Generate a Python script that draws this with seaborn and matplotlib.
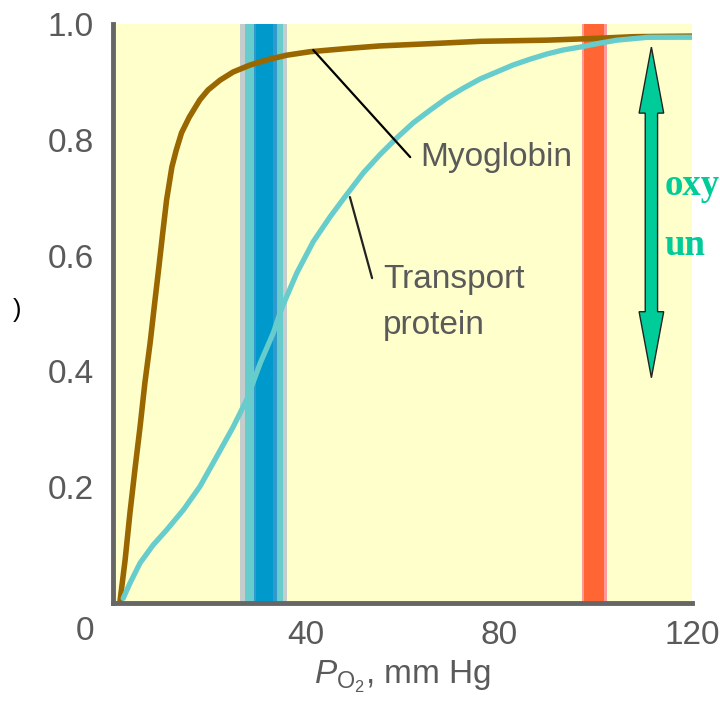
import matplotlib
matplotlib.use("Agg")
import matplotlib.pyplot as plt
from matplotlib.patches import Polygon
import seaborn as sns
import pandas as pd

# ---- data ----
myo_x = [1.4, 2.5, 3.5, 4.6, 5.6, 6.6, 7.7, 8.7, 9.5, 10.3, 11.1, 12.2, 13.1, 14.2,
         15.8, 18.0, 19.7, 22.2, 24.9, 28.4, 31.9, 36.0, 40.8, 49.1, 55.3, 66.0,
         76.1, 90.0, 100.0, 108.0, 120.0]
myo_y = [0.0, 0.074, 0.155, 0.235, 0.304, 0.38, 0.45, 0.523, 0.58, 0.639, 0.696,
         0.753, 0.782, 0.812, 0.839, 0.869, 0.886, 0.903, 0.917, 0.929, 0.938, 0.946,
         0.952, 0.958, 0.962, 0.966, 0.970, 0.972, 0.975, 0.978, 0.979]

tr_x = [2.1, 3.5, 5.6, 8.3, 11.1, 14.6, 18.0, 21.5, 24.9, 27.7, 30.5, 33.2, 35.0,
        38.1, 41.5, 45.0, 48.4, 51.9, 55.3, 58.8, 62.2, 65.7, 69.2, 72.6, 76.1,
        79.5, 82.9, 86.4, 89.9, 93.3, 96.8, 101.0, 104.5, 111.0, 120.0]
tr_y = [0.008, 0.034, 0.069, 0.100, 0.126, 0.161, 0.201, 0.253, 0.304, 0.351, 0.414,
        0.466, 0.510, 0.570, 0.624, 0.667, 0.705, 0.743, 0.774, 0.803, 0.829, 0.851,
        0.872, 0.889, 0.905, 0.917, 0.929, 0.939, 0.948, 0.955, 0.960, 0.967, 0.972,
        0.977, 0.977]

x_ticks = [20, 40, 60, 80, 100, 120]
x_tick_labels = ["", "40", "", "80", "", "120"]
y_ticks = [0.2, 0.4, 0.6, 0.8, 1.0]
y_tick_labels = ["0.2", "0.4", "0.6", "0.8", "1.0"]

# tissue band (blue) and lung band (red): layered spans (start, end, color)
blue_band = [(26.3, 36.1, "#C4CCCC"), (27.3, 35.2, "#66CCCC"),
             (29.2, 34.0, "#3399CC"), (29.6, 33.2, "#0099CC")]
red_band = [(97.2, 102.4, "#FF9999"), (97.6, 101.8, "#FF6633")]

# double-headed arrow (x, top, bottom)
arrow_x, arrow_top, arrow_bot = 111.6, 0.960, 0.389

myo_leader = ([41.5, 61.6], [0.955, 0.770])
tr_leader = ([49.1, 53.7], [0.701, 0.561])

# ---- style ----
sns.set_style("white")
plt.rcParams["font.family"] = ["Liberation Sans", "DejaVu Sans"]
plt.rcParams["mathtext.fontset"] = "custom"
plt.rcParams["mathtext.rm"] = "Liberation Sans"
plt.rcParams["mathtext.it"] = "Liberation Sans:italic"

TXT = "#5a5a5a"
FS = 24

fig = plt.figure(figsize=(7.2, 7.04), dpi=100)
ax = fig.add_axes([0.157, 0.1435, 0.804, 0.8225])
ax.set_facecolor("#FFFFCC")

for s, e, c in blue_band + red_band:
    ax.axvspan(s, e, color=c, lw=0, zorder=1)

df_m = pd.DataFrame({"x": myo_x, "y": myo_y})
df_t = pd.DataFrame({"x": tr_x, "y": tr_y})
sns.lineplot(data=df_m, x="x", y="y", ax=ax, color="#996600", lw=4.0,
             sort=False, estimator=None, zorder=3, solid_joinstyle="round")
sns.lineplot(data=df_t, x="x", y="y", ax=ax, color="#66CCCC", lw=3.8,
             sort=False, estimator=None, zorder=3, solid_joinstyle="round")

ax.plot(*myo_leader, color="black", lw=1.6, zorder=4)
ax.plot(*tr_leader, color="#222222", lw=1.6, zorder=4)

ax.text(63.6, 0.769, "Myoglobin", fontsize=FS, color=TXT, va="center", ha="left")
ax.text(56.0, 0.558, "Transport", fontsize=FS, color=TXT, va="center", ha="left")
ax.text(56.0, 0.480, "protein", fontsize=FS, color=TXT, va="center", ha="left")

# arrow polygon
hw, sw, hl = 2.55, 1.28, 0.114
pts = [(arrow_x, arrow_top), (arrow_x + hw, arrow_top - hl), (arrow_x + sw, arrow_top - hl),
       (arrow_x + sw, arrow_bot + hl), (arrow_x + hw, arrow_bot + hl), (arrow_x, arrow_bot),
       (arrow_x - hw, arrow_bot + hl), (arrow_x - sw, arrow_bot + hl),
       (arrow_x - sw, arrow_top - hl), (arrow_x - hw, arrow_top - hl)]
ax.add_patch(Polygon(pts, closed=True, facecolor="#00CC99", edgecolor="#222222",
                     lw=1.0, zorder=5, clip_on=False))

ax.text(114.4, 0.705, "oxy", fontsize=26.5, color="#00CC99", fontweight="bold",
        family="Liberation Serif", va="baseline", ha="left", clip_on=False, zorder=6)
ax.text(114.4, 0.601, "un", fontsize=26.5, color="#00CC99", fontweight="bold",
        family="Liberation Serif", va="baseline", ha="left", clip_on=False, zorder=6)

ax.set_xlim(0, 120)
ax.set_ylim(0, 1.0)
ax.set_xticks(x_ticks)
ax.set_xticklabels(x_tick_labels)
ax.set_yticks(y_ticks)
ax.set_yticklabels(y_tick_labels)
ax.tick_params(axis="both", direction="in", length=12, width=1.6, color="#222222",
               labelsize=FS, labelcolor=TXT)
ax.tick_params(axis="y", pad=14)
ax.tick_params(axis="x", pad=12)
ax.text(-5.9, -0.05, "0", fontsize=FS, color=TXT, ha="center", va="center",
        transform=ax.get_xaxis_transform(), clip_on=False)

for side in ["top", "right"]:
    ax.spines[side].set_visible(False)
for side in ["left", "bottom"]:
    ax.spines[side].set_color("#666666")
    ax.spines[side].set_linewidth(3.5)
    ax.spines[side].set_zorder(4)

ax.set_xlabel(r"$P_{\mathrm{O_2}}$, mm Hg", fontsize=FS, color=TXT, labelpad=6)
ax.set_ylabel("")
fig.text(0.024, 0.56, ")", fontsize=18, color="black", ha="center", va="center")

fig.savefig("out.png", dpi=100, facecolor="white")
